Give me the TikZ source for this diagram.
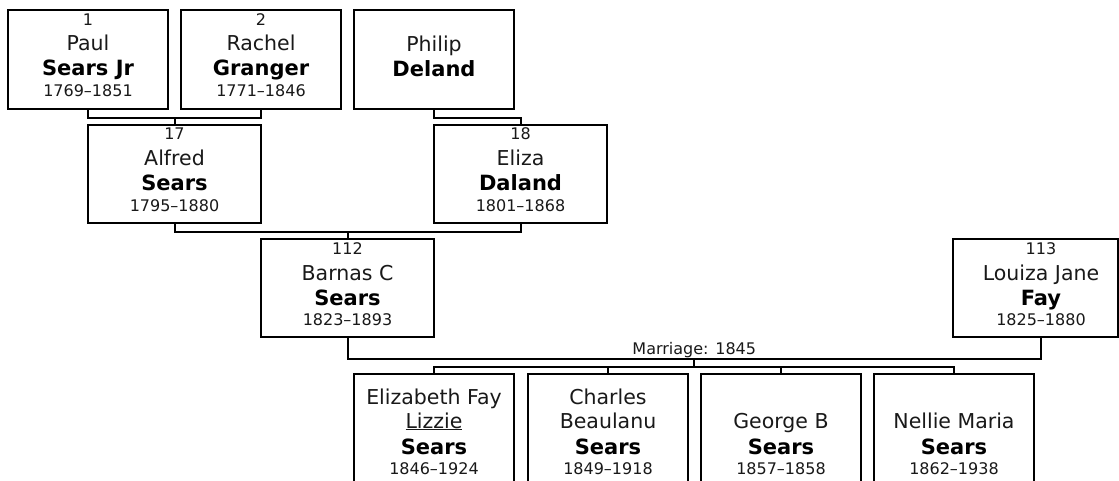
\documentclass[tikz,border=0pt]{standalone}
\usepackage{fontspec}
\setmainfont{DejaVu Sans}
\usetikzlibrary{calc}
\begin{document}
\begin{tikzpicture}[x=1pt,y=-1pt,
  pbox/.style={draw=black, line width=2pt, inner sep=0pt, minimum height=99pt},
  wtop/.style={minimum width=160pt},
  wmid/.style={minimum width=173pt, minimum height=98pt},
  small/.style={font=\fontsize{16}{18}\selectfont, anchor=base, inner sep=0pt, text=black!90},
  nm/.style={font=\fontsize{20.5}{24}\selectfont, anchor=base, inner sep=0pt, text=black!90},
  sn/.style={font=\fontsize{21}{24}\selectfont\bfseries, anchor=base, inner sep=0pt, text=black},
  link/.style={draw=black, line width=2pt}]
\path[use as bounding box, clip] (0,0) rectangle (1119,481);
\fill[white] (0,0) rectangle (1119,481);

% ---- boxes ----
\node[pbox, wtop] (p1) at (88,59.5) {};
\node[pbox, wtop] (p2) at (261,59.5) {};
\node[pbox, wtop] (p3) at (434,59.5) {};
\node[pbox, wmid] (p17) at (174.5,174) {};
\node[pbox, wmid] (p18) at (520.5,174) {};
\node[pbox, wmid] (p112) at (347.5,288) {};
\node[pbox, minimum width=165pt, minimum height=98pt] (p113) at (1035.5,288) {};
\node[pbox, wtop, minimum height=113pt] (c1) at (434,430.5) {};
\node[pbox, wtop, minimum height=113pt] (c2) at (608,430.5) {};
\node[pbox, wtop, minimum height=113pt] (c3) at (781,430.5) {};
\node[pbox, wtop, minimum height=113pt] (c4) at (954,430.5) {};

% ---- texts ----
\node[small] (p1n) at ($(p1.north)+(0,16.7)$) {1};
\node[nm] (p1g) at ($(p1.north)+(0,42)$) {Paul};
\node[sn] (p1s) at ($(p1.north)+(0,67)$) {Sears Jr};
\node[small] (p1y) at ($(p1.north)+(0,87.5)$) {1769–1851};

\node[small] (p2n) at ($(p2.north)+(0,16.7)$) {2};
\node[nm] (p2g) at ($(p2.north)+(0,42)$) {Rachel};
\node[sn] (p2s) at ($(p2.north)+(0,67)$) {Granger};
\node[small] (p2y) at ($(p2.north)+(0,87.5)$) {1771–1846};

\node[nm] (p3g) at ($(p3.north)+(0,42.5)$) {Philip};
\node[sn] (p3s) at ($(p3.north)+(0,67.5)$) {Deland};

\node[small] (p17n) at ($(p17.north)+(0,16)$) {17};
\node[nm] (p17g) at ($(p17.north)+(0,42)$) {Alfred};
\node[sn] (p17s) at ($(p17.north)+(0,67)$) {Sears};
\node[small] (p17y) at ($(p17.north)+(0,87.5)$) {1795–1880};

\node[small] (p18n) at ($(p18.north)+(0,16)$) {18};
\node[nm] (p18g) at ($(p18.north)+(0,42)$) {Eliza};
\node[sn] (p18s) at ($(p18.north)+(0,67)$) {Daland};
\node[small] (p18y) at ($(p18.north)+(0,87.5)$) {1801–1868};

\node[small] (p112n) at ($(p112.north)+(0,16.7)$) {112};
\node[nm] (p112g) at ($(p112.north)+(0,42)$) {Barnas C};
\node[sn] (p112s) at ($(p112.north)+(0,67)$) {Sears};
\node[small] (p112y) at ($(p112.north)+(0,87.5)$) {1823–1893};

\coordinate (lzx) at ($(p113.north)+(5.5,0)$);
\node[small] (p113n) at ($(lzx)+(0,16.7)$) {113};
\node[nm] (p113g) at ($(lzx)+(0,42)$) {Louiza Jane};
\node[sn] (p113s) at ($(lzx)+(0,67)$) {Fay};
\node[small] (p113y) at ($(lzx)+(0,87.5)$) {1825–1880};

\node[nm] (c1a) at ($(c1.north)+(0,31)$) {Elizabeth Fay};
\node[nm] (c1b) at ($(c1.north)+(0,55)$) {\underline{Lizzie}};
\node[sn] (c1s) at ($(c1.north)+(0,81)$) {Sears};
\node[small] (c1y) at ($(c1.north)+(0,101)$) {1846–1924};

\node[nm] (c2a) at ($(c2.north)+(0,31)$) {Charles};
\node[nm] (c2b) at ($(c2.north)+(0,55)$) {Beaulanu};
\node[sn] (c2s) at ($(c2.north)+(0,81)$) {Sears};
\node[small] (c2y) at ($(c2.north)+(0,101)$) {1849–1918};

\node[nm] (c3b) at ($(c3.north)+(0,55)$) {George B};
\node[sn] (c3s) at ($(c3.north)+(0,81)$) {Sears};
\node[small] (c3y) at ($(c3.north)+(0,101)$) {1857–1858};

\node[nm] (c4b) at ($(c4.north)+(0,55)$) {Nellie Maria};
\node[sn] (c4s) at ($(c4.north)+(0,81)$) {Sears};
\node[small] (c4y) at ($(c4.north)+(0,101)$) {1862–1938};

% ---- connectors ----
\coordinate (j1) at ($(p1.south)+(0,8)$);
\coordinate (j2) at ($(p2.south)+(0,8)$);
\draw[link] (p1.south) -- (j1) -- (j2) -- (p2.south);
\draw[link] ($(j1)!0.5!(j2)$) -- (p17.north);

\coordinate (j3) at ($(p3.south)+(0,8)$);
\draw[link] (p3.south) -- (j3) -- (j3 -| p18.north) -- (p18.north);

\coordinate (j4) at ($(p17.south)+(0,8)$);
\coordinate (j5) at ($(p18.south)+(0,8)$);
\draw[link] (p17.south) -- (j4) -- (j5) -- (p18.south);
\draw[link] ($(j4)!0.5!(j5)$) -- (p112.north);

\coordinate (lzb) at ($(p113.south)+(5.5,0)$);
\coordinate (m1) at ($(p112.south)+(0,21)$);
\coordinate (m2) at (m1 -| lzb);
\draw[link] (p112.south) -- (m1) -- (m2) -- (lzb);
\coordinate (mm) at ($(m1)!0.5!(m2)$);
\node[small] (mlabel) at ($(mm)+(0,-5)$) {Marriage: 1845};
\coordinate (bus) at ($(mm)+(0,8)$);
\draw[link] (mm) -- (bus);
\coordinate (b1) at (bus -| c1.north);
\coordinate (b4) at (bus -| c4.north);
\draw[link] (c1.north) -- (b1) -- (b4) -- (c4.north);
\draw[link] (c2.north) -- (bus -| c2.north);
\draw[link] (c3.north) -- (bus -| c3.north);
\end{tikzpicture}
\end{document}
